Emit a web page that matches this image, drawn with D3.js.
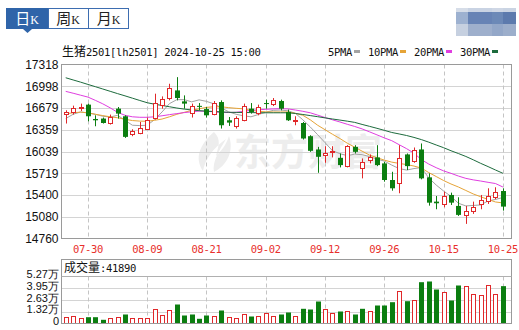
<!DOCTYPE html>
<html>
<head>
<meta charset="utf-8">
<script src="https://cdn.jsdelivr.net/npm/d3@7"></script>
<style>
  body { margin: 0; background: #fff; }
  svg { display: block; }
  text.date-label { fill: #e8302c; }
</style>
</head>
<body>
<div id="chart"></div>
<script>
// Daily K-line for 生猪2501 — candles, 4 moving averages, volume panel.

const dates = ['07-25','07-26','07-29','07-30','07-31','08-01','08-02','08-05','08-06','08-07',
  '08-08','08-09','08-12','08-13','08-14','08-15','08-16','08-19','08-20','08-21',
  '08-22','08-23','08-26','08-27','08-28','08-29','08-30','09-02','09-03','09-04',
  '09-05','09-06','09-09','09-10','09-11','09-12','09-13','09-18','09-19','09-20',
  '09-23','09-24','09-25','09-26','09-27','09-30','10-08','10-09','10-10','10-11',
  '10-14','10-15','10-16','10-17','10-18','10-21','10-22','10-23','10-24','10-25'];

const open = [16590,16620,16684,16728,16517,16523,16464,16669,16557,16293,
  16312,16376,16538,16718,16830,16937,16776,16605,16710,16663,
  16596,16766,16498,16415,16498,16669,16605,16751,16732,16781,
  16620,16488,16458,16264,16069,15990,16029,15946,15824,16107,
  15791,15912,15952,15864,15620,15571,15996,15902,16069,15659,
  15302,15268,15400,15239,15107,15170,15264,15316,15366,15458];
const high = [16645,16713,16743,16743,16571,16538,16582,16693,16571,16366,
  16473,16538,16889,16849,17035,17132,16864,16743,16751,16693,
  16781,16791,16546,16557,16743,16751,16728,16801,16825,16801,
  16655,16557,16473,16278,16107,16117,16117,16010,16132,16132,
  15937,15996,16132,15887,15741,16132,16010,16098,16157,15718,
  15385,15448,15434,15366,15239,15302,15400,15498,15513,15498];
const low = [16450,16582,16634,16483,16410,16450,16435,16523,16239,16264,
  16293,16366,16508,16669,16791,16791,16669,16538,16644,16538,
  16571,16376,16415,16376,16483,16596,16571,16669,16707,16644,
  16488,16425,16215,16034,15726,15873,15952,15805,15805,16010,
  15644,15864,15824,15595,15463,15425,15766,15873,15630,15243,
  15190,15220,15253,15092,14975,15122,15190,15268,15337,15170];
const close = [16615,16684,16693,16557,16498,16458,16546,16596,16254,16341,
  16385,16508,16751,16816,16977,16825,16743,16703,16699,16571,
  16751,16425,16464,16538,16707,16620,16693,16737,16801,16669,
  16498,16508,16230,16049,15961,16010,16049,15839,16117,16034,
  15887,15952,15839,15620,15498,15937,15824,16059,15644,15287,
  15278,15385,15287,15107,15166,15229,15327,15385,15440,15229];
const volume = [7060,7850,5610,7060,7060,4150,6390,7060,10090,5940,
  5940,5940,16480,10090,14580,21300,8970,10090,5270,8970,
  8970,14580,7060,6390,10880,7850,8970,12000,8970,10090,
  12330,8630,16480,15700,24670,16480,11550,13460,13460,10090,
  16480,13460,20180,20180,23880,37000,25000,25790,46310,47100,
  38120,34760,25790,42610,41490,32520,31400,42610,32520,41890];

const ma5 = [16523,16586,16620,16605,16586,16557,16546,16571,16498,16425,
  16420,16425,16508,16620,16743,16801,16801,16769,16798,16776,
  16740,16681,16622,16586,16564,16549,16583,16615,16644,16649,
  16637,16600,16505,16400,16286,16169,16051,16007,15978,16000,
  15993,15964,15927,15898,15839,15788,15766,15788,15803,15649,
  15546,15458,15378,15278,15239,15246,15253,15312,15334,15363];
const ma10 = [16593,16608,16618,16608,16586,16567,16549,16535,16513,16494,
  16486,16483,16498,16516,16549,16586,16615,16644,16666,16688,
  16696,16696,16684,16674,16666,16644,16630,16622,16620,16620,
  16620,16600,16571,16505,16425,16359,16293,16230,16161,16103,
  16044,15986,15949,15912,15883,15864,15847,15825,15795,15729,
  15671,15612,15561,15517,15466,15415,15374,15334,15297,15283];
const ma20 = [16923,16896,16867,16839,16791,16740,16681,16615,16571,16549,
  16542,16542,16549,16564,16581,16596,16611,16622,16633,16630,
  16622,16615,16612,16615,16630,16644,16652,16659,16665,16669,
  16665,16649,16630,16608,16574,16538,16505,16473,16439,16407,
  16371,16328,16284,16239,16198,16139,16081,16015,15920,15854,
  15801,15754,15718,15678,15644,15622,15605,15586,15568,15517];
const ma30 = [17123,17091,17059,17025,16992,16958,16924,16890,16857,16823,
  16789,16756,16734,16716,16697,16678,16662,16650,16639,16633,
  16627,16621,16615,16614,16612,16611,16609,16608,16608,16608,
  16608,16598,16583,16567,16551,16533,16517,16501,16485,16467,
  16437,16409,16380,16350,16319,16297,16274,16246,16214,16176,
  16135,16095,16050,16009,15966,15917,15865,15817,15767,15719];

const yTicks = [17318,16998,16679,16359,16039,15719,15400,15080,14760];
const xLabels = ['07-30','08-09','08-21','09-02','09-12','09-26','10-15','10-25'];
const volTicks = [0,13175,26350,39525,52700];
const volTickLabels = ['0','1.32万','2.63万','3.95万','5.27万'];
const maNames = ['5PMA','10PMA','20PMA','30PMA'];
const tabNames = ['日','周','月'];
const titleText = '生猪2501[lh2501] 2024-10-25 15:00';
const volTitle = '成交量:41890';

// ---- layout ----
const W = 519, H = 330;
const plotL = 61.5, plotR = 511.5, plotT = 64.5, plotB = 238.5;
const volT = 259.5, volTop = 276.5, volB = 323.5;

const RED = '#e0282a', GREEN = '#0b7e10', FRAME = '#9a9a9a', GRID = '#d4d4d4';
const maColors = ['#a3a3a3', '#e6a437', '#e03ee0', '#1d6b3d'];
const asciiFont = '"DejaVu Sans Mono", monospace';
const cjkFont = '"Noto Sans CJK SC", sans-serif';

const svg = d3.select('#chart').append('svg')
  .attr('width', W).attr('height', H)
  .style('font-family', '"Liberation Sans", Arial, sans-serif');

const x = d3.scalePoint().domain(dates).range([62, 506.6]).padding(0.5);
const y = d3.scaleLinear().domain([14760, 17318]).range([plotB, plotT]);
const yv = d3.scaleLinear().domain([0, 52700]).range([volB, volTop]);
const px = v => Math.round(v) + 0.5;

// SimSun-like mixed text: CJK runs at full size, ASCII runs as half-width mono.
function mixedText(sel, str, cjkSize, asciiSize, fill) {
  const t = sel.append('text').style('white-space', 'pre').style('fill', fill);
  (str.match(/[\u4e00-\u9fff]+|[^\u4e00-\u9fff]+/g) || []).forEach(run => {
    const cjk = /[\u4e00-\u9fff]/.test(run);
    t.append('tspan')
      .style('font-family', cjk ? cjkFont : asciiFont)
      .style('font-size', (cjk ? cjkSize : asciiSize) + 'px')
      .style('letter-spacing', cjk ? '0px' : '-0.3px')
      .text(run);
  });
  return t;
}

// ---- tabs (日K / 周K / 月K) ----
const TAB_BLUE = '#2f64a9';
const tabs = svg.append('g');
tabs.append('rect').attr('x', 6.5).attr('y', 8.5).attr('width', 122).attr('height', 20)
  .attr('fill', '#fff').attr('stroke', '#3d6db0');
tabs.append('rect').attr('x', 6).attr('y', 8).attr('width', 42.5).attr('height', 21)
  .attr('fill', TAB_BLUE);
tabs.append('path').attr('d', 'M23,29 L32,29 L27.5,33 Z').attr('fill', TAB_BLUE);
[48.5, 88.5].forEach(xx => tabs.append('line')
  .attr('x1', xx).attr('x2', xx).attr('y1', 8.5).attr('y2', 28.5).attr('stroke', '#3d6db0'));
const tabCenters = [27, 68, 108.5];
tabNames.forEach((name, i) => {
  const t = tabs.append('text').attr('x', tabCenters[i]).attr('y', 24)
    .attr('text-anchor', 'middle').style('fill', i === 0 ? '#fff' : '#222');
  t.append('tspan').style('font-family', cjkFont).style('font-size', '15px').text(name);
  t.append('tspan').style('font-family', '"Liberation Serif", serif').style('font-size', '12px').text('K');
});

// blurred badge, top right
const blobCols = [456, 468, 492, 503, 516];
const blobRows = [8, 12, 24, 36];
const blobFill = [
  ['#d6dde8', '#c9d3e3', '#cfd7e5', '#cad4e3'],
  ['#9db1d0', '#6783b5', '#6c89b7', '#5c7aad'],
  ['#c6d0e0', '#9eafcc', '#93a7c8', '#9caecb']];
blobFill.forEach((row, r) => row.forEach((c, k) => svg.append('rect')
  .attr('x', blobCols[k]).attr('y', blobRows[r])
  .attr('width', blobCols[k + 1] - blobCols[k]).attr('height', blobRows[r + 1] - blobRows[r])
  .attr('fill', c)));

// ---- title + legend ----
mixedText(svg, titleText, 12, 10.5, '#111').attr('x', 62).attr('y', 56);
let lx = 328;
maNames.forEach((name, i) => {
  mixedText(svg, name, 12, 10.5, '#111').attr('x', lx).attr('y', 56);
  lx += name.length * 6 + 2;
  svg.append('rect').attr('x', lx).attr('y', 50).attr('width', 6).attr('height', 3)
    .attr('fill', maColors[i]);
  lx += 14;
});

// ---- main price panel ----
const main = svg.append('g');

// watermark
const wm = main.append('g').attr('fill', '#ededed');
wm.append('path')
  .attr('d', 'M214,132 C200,144 194,158 203,171 C205,160 212,149 226,139 C219,151 212,162 214,172 C228,165 234,150 229,136 C226,146 220,152 216,156 C218,147 222,140 214,132 Z');
wm.append('text').attr('x', 234).attr('y', 166)
  .style('font-family', cjkFont).style('font-size', '37px').style('font-weight', 'bold')
  .text('东方财富');

// horizontal grid
main.selectAll('line.hgrid').data(yTicks.slice(1, -1)).join('line')
  .attr('class', 'hgrid')
  .attr('x1', plotL).attr('x2', plotR)
  .attr('y1', d => px(y(d))).attr('y2', d => px(y(d)))
  .attr('stroke', GRID);

// vertical dashed grid (both panels)
main.selectAll('line.vgrid').data(xLabels).join('line')
  .attr('class', 'vgrid')
  .attr('x1', d => px(x(d))).attr('x2', d => px(x(d)))
  .attr('y1', plotT).attr('y2', plotB)
  .attr('stroke', '#c4c4c4').attr('stroke-dasharray', '4,3');

// y axis labels
const yAxis = main.append('g')
  .attr('transform', `translate(${plotL},0)`)
  .call(d3.axisLeft(y).tickValues(yTicks).tickSize(0).tickPadding(3).tickFormat(d3.format('d')));
yAxis.select('.domain').remove();
yAxis.selectAll('text').style('fill', '#111').style('font-size', '12px')
  .style('font-family', '"Liberation Sans", Arial, sans-serif');

// x labels (red dates), drawn as plain text at the scale positions
main.selectAll('text.date-label').data(xLabels).join('text')
  .attr('class', 'date-label')
  .attr('x', d => x(d))
  .attr('y', 252.5)
  .attr('text-anchor', 'middle')
  .attr('fill', '#e8302c')
  .style('font-family', asciiFont)
  .style('font-size', '10.5px')
  .style('letter-spacing', '-0.3px')
  .text(d => d);

// moving averages
const maSeries = [ma5, ma10, ma20, ma30];
maSeries.forEach((s, k) => {
  main.append('path')
    .datum(s)
    .attr('fill', 'none')
    .attr('stroke', maColors[k])
    .attr('stroke-width', 1)
    .attr('d', d3.line().x((d, i) => x(dates[i])).y(d => y(d)));
});

// candles
const candles = main.selectAll('g.candle').data(dates).join('g').attr('class', 'candle');
candles.each(function(d, i) {
  const g = d3.select(this);
  const up = close[i] >= open[i];
  const col = up ? RED : GREEN;
  const cx = Math.round(x(d));
  g.append('line')
    .attr('x1', cx + 0.5).attr('x2', cx + 0.5)
    .attr('y1', y(high[i])).attr('y2', y(low[i]))
    .attr('stroke', col);
  const top = y(Math.max(open[i], close[i]));
  const bot = y(Math.min(open[i], close[i]));
  if (up) {
    g.append('rect')
      .attr('x', cx - 2 + 0.5).attr('y', Math.round(top) + 0.5)
      .attr('width', 4).attr('height', Math.max(1, Math.round(bot) - Math.round(top)))
      .attr('fill', '#fff').attr('stroke', col);
  } else {
    g.append('rect')
      .attr('x', cx - 2).attr('y', top)
      .attr('width', 5).attr('height', Math.max(1, bot - top))
      .attr('fill', col);
  }
});

// frame
main.append('rect')
  .attr('x', plotL).attr('y', plotT)
  .attr('width', plotR - plotL).attr('height', plotB - plotT)
  .attr('fill', 'none').attr('stroke', FRAME);

// ---- volume panel ----
const vol = svg.append('g');

vol.selectAll('line.vh').data(volTicks.slice(1, -1)).join('line')
  .attr('class', 'vh')
  .attr('x1', plotL).attr('x2', plotR)
  .attr('y1', d => px(yv(d))).attr('y2', d => px(yv(d)))
  .attr('stroke', GRID);

vol.selectAll('line.vv').data(xLabels).join('line')
  .attr('class', 'vv')
  .attr('x1', d => px(x(d))).attr('x2', d => px(x(d)))
  .attr('y1', volTop).attr('y2', volB)
  .attr('stroke', '#c4c4c4').attr('stroke-dasharray', '4,3');

// volume bars coloured by change versus the previous close
vol.selectAll('g.vbar').data(dates).join('g').attr('class', 'vbar')
  .each(function(d, i) {
    const g = d3.select(this);
    const prev = i > 0 ? close[i - 1] : open[i];
    const up = close[i] >= prev;
    const cx = Math.round(x(d));
    const top = yv(volume[i]);
    if (up) {
      g.append('rect')
        .attr('x', cx - 2 + 0.5).attr('y', Math.round(top) + 0.5)
        .attr('width', 4).attr('height', Math.max(1, Math.round(volB) - Math.round(top) - 1))
        .attr('fill', '#fff').attr('stroke', RED);
    } else {
      g.append('rect')
        .attr('x', cx - 2).attr('y', top)
        .attr('width', 5).attr('height', volB - top)
        .attr('fill', GREEN);
    }
  });

vol.selectAll('text.vlab').data(volTicks).join('text')
  .attr('class', 'vlab')
  .attr('x', 59).attr('y', d => yv(d) + 1.5)
  .attr('text-anchor', 'end')
  .style('fill', '#111')
  .style('font-size', '11px')
  .text((d, i) => volTickLabels[i]);

vol.append('rect')
  .attr('x', plotL).attr('y', volT)
  .attr('width', plotR - plotL).attr('height', volB - volT)
  .attr('fill', 'none').attr('stroke', FRAME);
vol.append('line')
  .attr('x1', plotL).attr('x2', plotR).attr('y1', volTop).attr('y2', volTop)
  .attr('stroke', '#b0b0b0');

mixedText(vol, volTitle, 12, 10.5, '#111').attr('x', 64).attr('y', 272);
</script>
</body>
</html>
